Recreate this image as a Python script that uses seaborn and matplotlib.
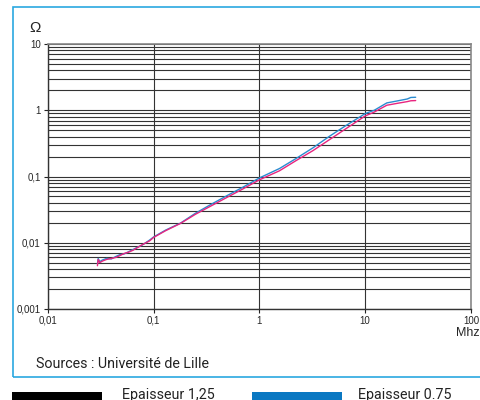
import numpy as np
import pandas as pd
import matplotlib
matplotlib.use('Agg')
import matplotlib.pyplot as plt
import matplotlib.ticker as mticker
from matplotlib.patches import Rectangle
import seaborn as sns

# frequency (MHz) and impedance (Ohm)
freq = [0.0295, 0.030, 0.031, 0.033, 0.036, 0.040, 0.044, 0.048, 0.053, 0.058,
        0.064, 0.070, 0.077, 0.085, 0.092, 0.1, 0.13, 0.18, 0.25, 0.35, 0.49,
        0.7, 1.0, 1.55, 2.2, 3.2, 4.6, 6.5, 10, 12.2, 16, 20, 25, 27, 30]
blue_vals = [0.0048, 0.0058, 0.0052, 0.0055, 0.0058, 0.0057, 0.0062, 0.0066, 0.0068, 0.0073,
             0.0079, 0.0085, 0.0091, 0.0101, 0.0110, 0.0122, 0.0155, 0.0198, 0.028, 0.038, 0.051,
             0.069, 0.095, 0.132, 0.185, 0.27, 0.405, 0.58, 0.89, 1.0, 1.29, 1.38, 1.48, 1.56, 1.57]
pink_vals = [0.0045, 0.0056, 0.0050, 0.0053, 0.0056, 0.0058, 0.0060, 0.0064, 0.0069, 0.0072,
             0.0077, 0.0084, 0.0092, 0.0100, 0.0107, 0.0120, 0.0152, 0.0196, 0.027, 0.036, 0.048,
             0.065, 0.089, 0.122, 0.172, 0.245, 0.36, 0.52, 0.82, 0.94, 1.19, 1.27, 1.35, 1.39, 1.40]

x_ticks = [0.01, 0.1, 1, 10, 100]
x_labels = ['0,01', '0,1', '1', '10', '100']
y_ticks = [0.001, 0.01, 0.1, 1, 10]
y_labels = ['0,001', '0,01', '0,1', '1', '10']
legend_labels = ['Epaisseur 1,25', 'Epaisseur 0.75']

W, H = 481, 400

def fx(px): return px / W
def fy(py): return 1 - py / H

sns.set_style('white')
plt.rcParams['font.family'] = ['Liberation Sans', 'DejaVu Sans']

data = pd.DataFrame({
    'f': freq + freq,
    'z': blue_vals + pink_vals,
    'serie': ['blue'] * len(freq) + ['pink'] * len(freq),
})

fig = plt.figure(figsize=(W / 100, H / 100), dpi=100)
ax = fig.add_axes([fx(47.7), fy(309), fx(471) - fx(47.7), fy(44) - fy(309)])

sns.lineplot(data=data, x='f', y='z', hue='serie', palette={'blue': '#2a8bd0', 'pink': '#e8257f'},
             ax=ax, linewidth=1.0, legend=False, sort=False, estimator=None)

# set format for plot
ax.set_xscale('log')
ax.set_yscale('log')
ax.set_xlim(0.01, 100)
ax.set_ylim(0.001, 10)
ax.set_xticks(x_ticks)
ax.set_xticklabels(x_labels)
ax.set_yticks(y_ticks)
ax.set_yticklabels(y_labels)
ax.xaxis.set_minor_locator(mticker.NullLocator())
ax.yaxis.set_minor_locator(mticker.LogLocator(base=10, subs=range(2, 10)))
ax.yaxis.set_minor_formatter(mticker.NullFormatter())
ax.tick_params(axis='y', which='minor', length=0)
ax.tick_params(axis='both', which='major', length=3, width=0.8, color='#222',
               labelsize=7, pad=2, direction='out')
ax.tick_params(axis='y', which='major', left=True)
ax.tick_params(axis='x', which='major', bottom=True)
ax.set_xlabel('')
ax.set_ylabel('')

ax.grid(True, axis='y', which='both', color='#333', linewidth=0.8)
ax.grid(True, axis='x', which='major', color='#333', linewidth=0.8)
ax.set_axisbelow(True)
for side in ['left', 'bottom']:
    ax.spines[side].set_color('#333')
    ax.spines[side].set_linewidth(1.0)
for side in ['top', 'right']:
    ax.spines[side].set_color('#888')
    ax.spines[side].set_linewidth(1.2)

# texts
fig.text(fx(35), fy(28), 'Ω', fontsize=11, ha='center', va='center')
fig.text(fx(480), fy(333), 'Mhz', fontsize=9, ha='right', va='center')
fig.text(fx(36), fy(364), 'Sources : Université de Lille', fontsize=10.3,
         ha='left', va='center', color='#222', family=['Roboto', 'DejaVu Sans'])

# frame
fig.add_artist(Rectangle((fx(12.7), fy(376.7)), 1.2, fy(7.3) - fy(376.7),
                         transform=fig.transFigure, fill=False, edgecolor='#2aa8e0', linewidth=1.2))

# legend
fig.add_artist(Rectangle((fx(12), fy(400)), fx(102) - fx(12), fy(391.7) - fy(400),
                         transform=fig.transFigure, color='black', linewidth=0))
fig.add_artist(Rectangle((fx(252), fy(400)), fx(342) - fx(252), fy(391.7) - fy(400),
                         transform=fig.transFigure, color='#0a78c2', linewidth=0))
fig.text(fx(122), fy(388), legend_labels[0], fontsize=10.3, ha='left', va='top',
         color='#222', family=['Roboto', 'DejaVu Sans'])
fig.text(fx(357.7), fy(388), legend_labels[1], fontsize=10.3, ha='left', va='top',
         color='#222', family=['Roboto', 'DejaVu Sans'])

plt.savefig('out.png', dpi=100)
plt.close()
